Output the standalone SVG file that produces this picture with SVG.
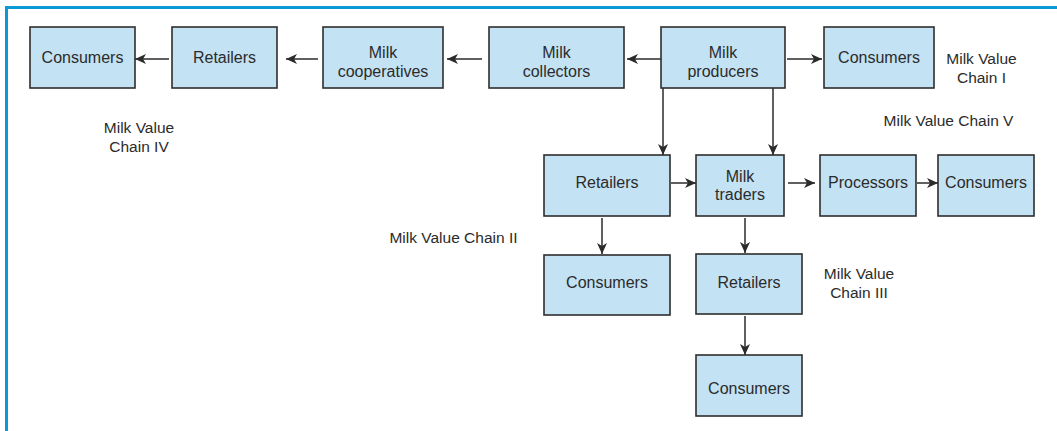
<svg xmlns="http://www.w3.org/2000/svg" width="1057" height="431" viewBox="0 0 1057 431">
<defs>
<style>
.box{fill:#c3e2f3;stroke:#2e2e2e;stroke-width:1.6}
.t{font-family:"Liberation Sans",Arial,sans-serif;font-size:16px;fill:#2b2b2b;text-anchor:middle}
.lb{font-family:"Liberation Sans",Arial,sans-serif;font-size:15.5px;fill:#2b2b2b;text-anchor:middle}
.c{stroke:#2b2b2b;stroke-width:1.5;fill:none;marker-end:url(#ah)}
</style>
<marker id="ah" markerUnits="userSpaceOnUse" markerWidth="12" markerHeight="10" refX="11" refY="5" orient="auto">
<path d="M0,0 L11,5 L0,10 L3,5 z" fill="#2b2b2b"/>
</marker>
</defs>
<rect width="1057" height="431" fill="#fff"/>
<path d="M6.5,431 V7.5 H1057" fill="none" stroke="#0b9ad6" stroke-width="3"/>

<g id="connectors">
<line class="c" x1="787" y1="59" x2="822" y2="59"/>
<line class="c" x1="661" y1="59" x2="627" y2="59"/>
<line class="c" x1="482" y1="59" x2="447" y2="59"/>
<line class="c" x1="318" y1="59" x2="286" y2="59"/>
<line class="c" x1="169" y1="59" x2="135" y2="59"/>
<line class="c" x1="663" y1="88" x2="663" y2="155"/>
<line class="c" x1="773" y1="88" x2="773" y2="155"/>
<line class="c" x1="671" y1="183" x2="696" y2="183"/>
<line class="c" x1="788" y1="183" x2="815" y2="183"/>
<line class="c" x1="917" y1="183" x2="938" y2="183"/>
<line class="c" x1="602" y1="218" x2="602" y2="254"/>
<line class="c" x1="745" y1="218" x2="745" y2="253"/>
<line class="c" x1="745" y1="316" x2="745" y2="355"/>
</g>

<g id="n-consumers4"><rect class="box" x="30" y="27" width="105" height="61"/><text class="t" x="82.5" y="63">Consumers</text></g>
<g id="n-retailers4"><rect class="box" x="172" y="27" width="105" height="61"/><text class="t" x="224.5" y="63">Retailers</text></g>
<g id="n-cooperatives"><rect class="box" x="323" y="27" width="120" height="61"/><text class="t" x="383" y="57.5">Milk</text><text class="t" x="383" y="76.5">cooperatives</text></g>
<g id="n-collectors"><rect class="box" x="489" y="27" width="135" height="61"/><text class="t" x="556.5" y="57.5">Milk</text><text class="t" x="556.5" y="76.5">collectors</text></g>
<g id="n-producers"><rect class="box" x="661" y="27" width="124" height="61"/><text class="t" x="723" y="57.5">Milk</text><text class="t" x="723" y="76.5">producers</text></g>
<g id="n-consumers1"><rect class="box" x="824" y="27" width="110" height="61"/><text class="t" x="879" y="63">Consumers</text></g>

<g id="n-retailers2"><rect class="box" x="544" y="155" width="126" height="61"/><text class="t" x="607" y="188">Retailers</text></g>
<g id="n-traders"><rect class="box" x="696" y="155" width="88" height="61"/><text class="t" x="740" y="181.5">Milk</text><text class="t" x="740" y="200">traders</text></g>
<g id="n-processors"><rect class="box" x="820" y="155" width="96" height="61"/><text class="t" x="868" y="188">Processors</text></g>
<g id="n-consumers5"><rect class="box" x="938" y="155" width="96" height="61"/><text class="t" x="986" y="188">Consumers</text></g>

<g id="n-consumers2"><rect class="box" x="544" y="255" width="126" height="60"/><text class="t" x="607" y="288">Consumers</text></g>
<g id="n-retailers3"><rect class="box" x="696" y="254" width="106" height="60"/><text class="t" x="749" y="288">Retailers</text></g>
<g id="n-consumers3"><rect class="box" x="696" y="355" width="106" height="61"/><text class="t" x="749" y="394">Consumers</text></g>

<g id="labels">
<text class="lb" x="139" y="133">Milk Value</text><text class="lb" x="139" y="152">Chain IV</text>
<text class="lb" x="981.5" y="64">Milk Value</text><text class="lb" x="981.5" y="83">Chain I</text>
<text class="lb" x="948.5" y="126">Milk Value Chain V</text>
<text class="lb" x="453.5" y="243">Milk Value Chain II</text>
<text class="lb" x="859" y="279">Milk Value</text><text class="lb" x="859" y="298">Chain III</text>
</g>
</svg>
